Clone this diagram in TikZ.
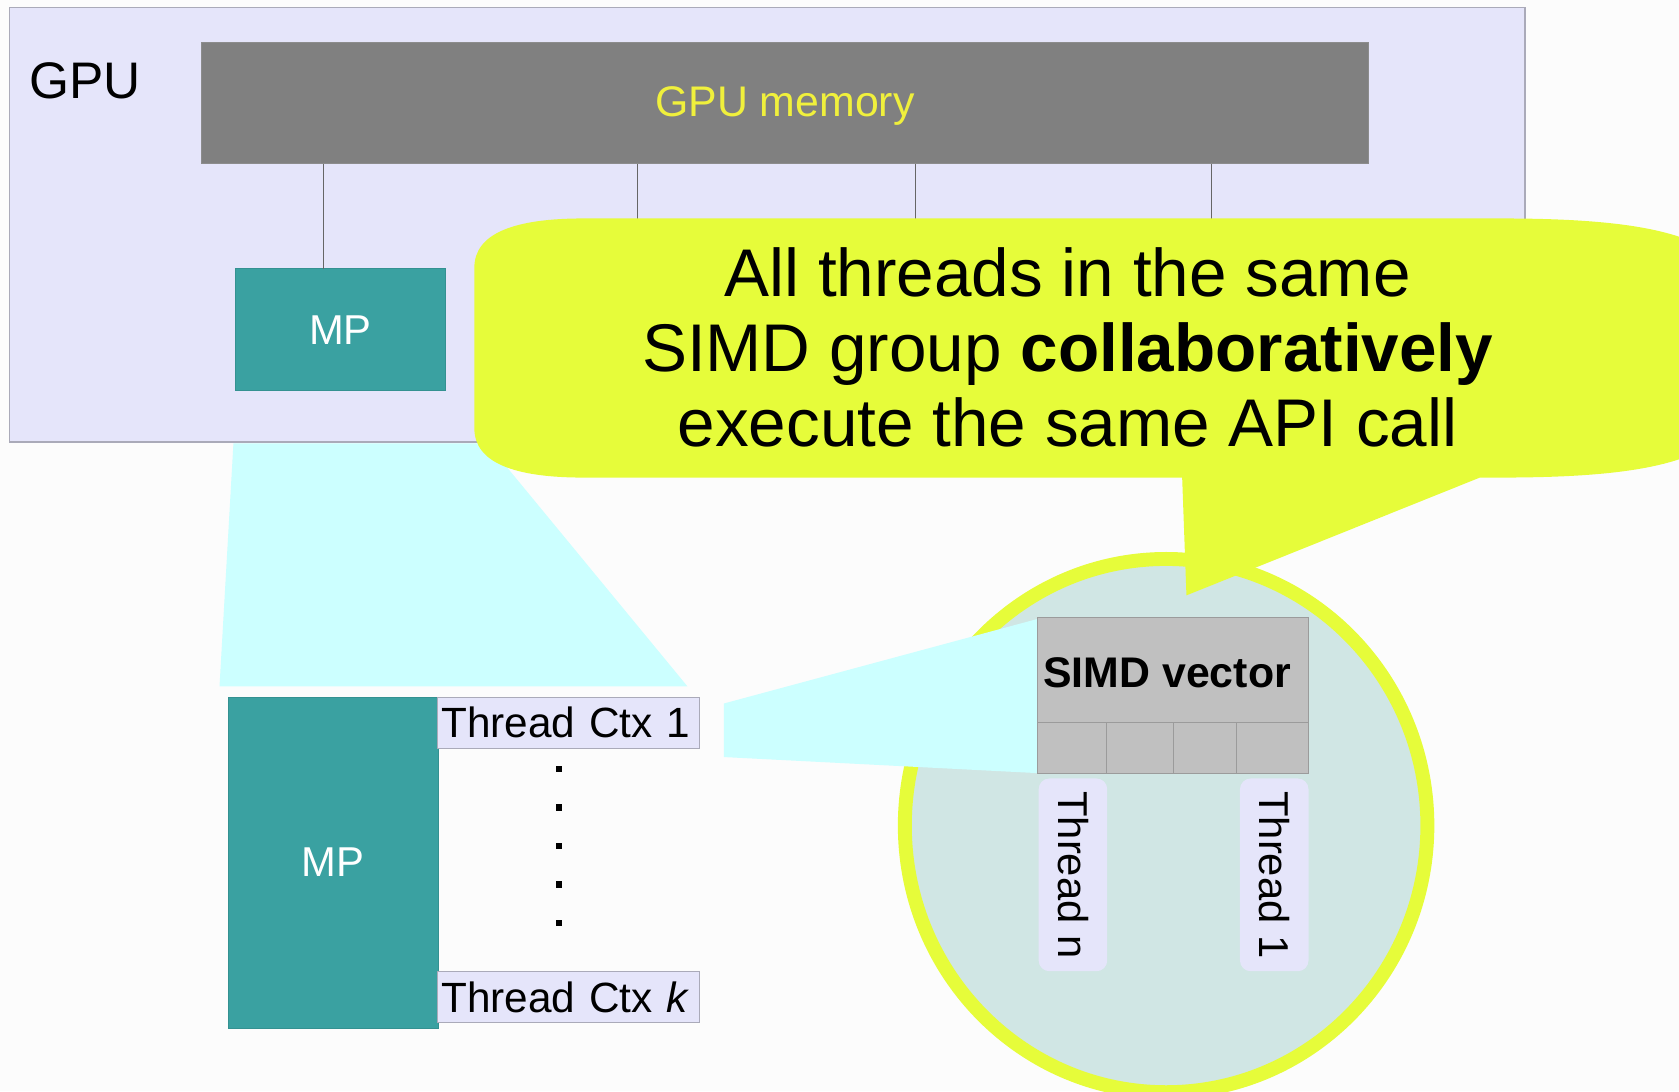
\documentclass[tikz,border=0pt]{standalone}
\usepackage{fontspec}
\setmainfont{Liberation Sans}
\definecolor{bgc}{RGB}{252,252,252}
\definecolor{gpufill}{RGB}{229,229,250}
\definecolor{gpuline}{RGB}{170,170,185}
\definecolor{memgray}{RGB}{128,128,128}
\definecolor{memtext}{RGB}{240,240,60}
\definecolor{mpteal}{RGB}{58,161,161}
\definecolor{cyanfill}{RGB}{204,255,255}
\definecolor{callouty}{RGB}{230,252,58}
\definecolor{circfill}{RGB}{208,230,228}
\definecolor{simdgray}{RGB}{192,192,192}
\definecolor{simdline}{RGB}{155,155,155}
\begin{document}
\begin{tikzpicture}[x=1pt,y=-1pt,
  box/.style={anchor=north west, inner sep=0pt, outer sep=0pt},
  mpbox/.style={box, fill=mpteal, draw=mpteal!90!black, line width=0.8pt, text=white,
     font=\fontsize{39}{39}\selectfont},
  ctxbox/.style={box, fill=gpufill, draw=gpuline, line width=1pt, minimum width=244pt,
     minimum height=48pt, text width=238pt, align=left, inner xsep=3pt,
     font=\fontsize{39.5}{40}\selectfont},
  thrbox/.style={rotate=-90, fill=gpufill, rounded corners=10pt, minimum width=180pt,
     minimum height=64pt, inner sep=0pt, font=\fontsize{39}{39}\selectfont},
  bus/.style={draw=black!60, line width=1pt},
  dot/.style={fill=black, minimum size=6pt, inner sep=0pt},
  big/.style={font=\fontsize{63}{63}\selectfont, anchor=base}
]
\useasboundingbox (0,0) rectangle (1568,1019);
\clip (0,0) rectangle (1568,1019);
\fill[bgc] (0,0) rectangle (1568,1019);

% GPU box
\node[box, fill=gpufill, draw=gpuline, line width=1.5pt, minimum width=1415pt, minimum height=406pt] (gpu) at (9,7) {};
\node[anchor=base west, inner sep=0pt, font=\fontsize{48}{48}\selectfont] (gpulabel) at (27,92) {GPU};

% GPU memory
\node[box, fill=memgray, draw=black!45, line width=0.8pt, minimum width=1090pt, minimum height=113pt] (mem) at (188,40) {};
\node[anchor=base, inner sep=0pt, text=memtext, font=\fontsize{40}{40}\selectfont] (memlabel) at (733,109) {GPU memory};

% MP in GPU
\node[mpbox, minimum width=196pt, minimum height=114pt] (mp1) at (220,251) {MP};

% bus lines
\coordinate (b1) at (302,251);
\coordinate (b2) at (595,251);
\coordinate (b3) at (855,251);
\coordinate (b4) at (1131,251);
\draw[bus] (mem.south -| b1) -- (b1);
\draw[bus] (mem.south -| b2) -- (b2);
\draw[bus] (mem.south -| b3) -- (b3);
\draw[bus] (mem.south -| b4) -- (b4);

% zoom trapezoid 1
\fill[cyanfill] (218,414) -- (455,414) -- (642,641) -- (205,641) -- cycle;

% lower MP + thread contexts
\node[mpbox, minimum width=196pt, minimum height=309pt] (mp2) at (213,651) {MP};
\node[ctxbox] (ctx1) at (409,651) {Thread Ctx 1};
\node[ctxbox] (ctxk) at (409,907) {Thread Ctx \textit{k}};
\foreach \i/\yy in {1/718,2/754,3/790,4/826,5/862}
  \node[dot] (d\i) at (522,\yy) {};

% circle
\draw[fill=circfill, draw=callouty, line width=13pt] (1089,771) ellipse [x radius=244, y radius=249];

% zoom trapezoid 2
\fill[cyanfill] (676,657) -- (969,578) -- (969,722) -- (676,707) -- cycle;

% SIMD vector
\node[box, fill=simdgray, draw=simdline, line width=1pt, minimum width=253pt, minimum height=145pt] (simd) at (969,577) {};
\node[anchor=base, inner sep=0pt, font=\bfseries\fontsize{40}{40}\selectfont] (simdlabel) at (1090,642) {SIMD vector};
\coordinate (c0) at (969,675);
\draw[draw=simdline, line width=1pt] (c0) -- (c0 -| simd.east);
\foreach \xx in {1033,1096,1155}
  \draw[draw=simdline, line width=1pt] (\xx,675) -- (\xx,722);

% thread labels
\node[thrbox] (thn) at (1002,817) {Thread n};
\node[thrbox] (th1) at (1190,817) {Thread 1};

% callout
\fill[callouty] (443,250) -- (443,400) .. controls (443,432) and (480,446) .. (545,446)
  -- (1104,446) -- (1108,556) -- (1382,446) -- (1400,446)
  .. controls (1580,446) and (1640,420) .. (1640,325)
  .. controls (1640,230) and (1580,204) .. (1400,204)
  -- (545,204) .. controls (480,204) and (443,218) .. (443,250) -- cycle;
\node[big] (l1) at (997,277) {All threads in the same};
\node[big] (l2) at (997,347) {SIMD group \textbf{collaboratively}};
\node[big] (l3) at (997,417) {execute the same API call};
\end{tikzpicture}
\end{document}
